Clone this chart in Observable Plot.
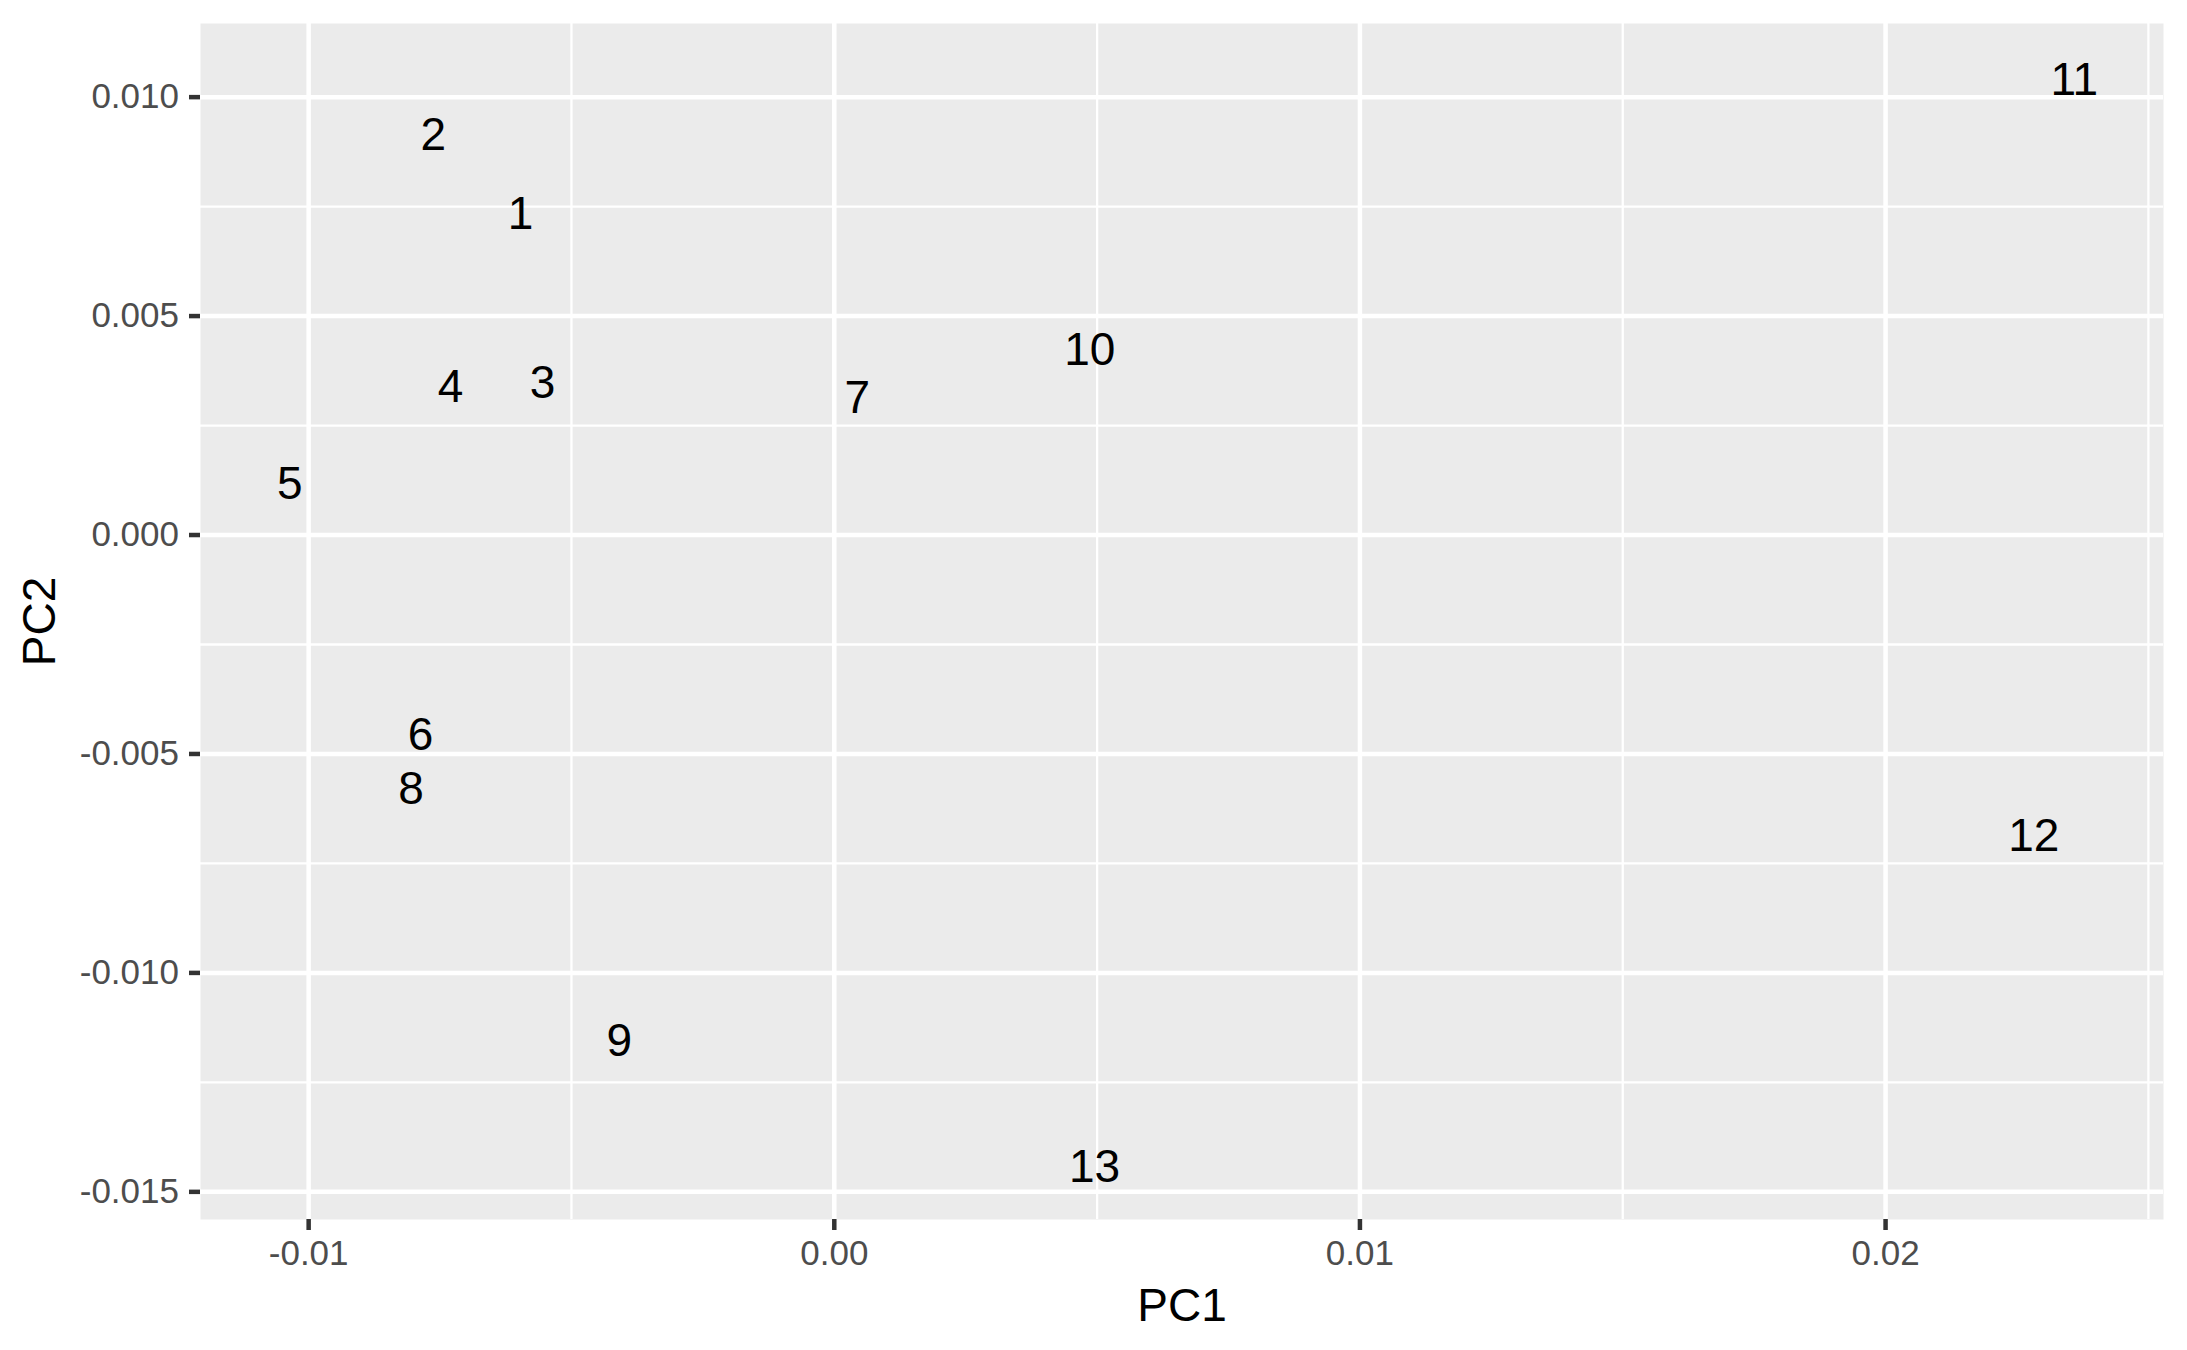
<!DOCTYPE html>
<html>
<head>
<meta charset="utf-8">
<script src="https://cdn.jsdelivr.net/npm/d3@7"></script>
<script src="https://cdn.jsdelivr.net/npm/@observablehq/plot@0.6"></script>
<style>
  html, body { margin: 0; padding: 0; background: #ffffff; }
  #chart { width: 2187px; height: 1350px; }
</style>
</head>
<body>
<div id="chart"></div>
<script>
// Sample labels and their principal-component scores
const labels = ["1", "2", "3", "4", "5", "6", "7", "8", "9", "10", "11", "12", "13"];
const pc1 = [-0.00597, -0.00763, -0.00555, -0.00730, -0.01036, -0.00787, 0.00044, -0.00805, -0.00409, 0.00486, 0.02359, 0.02282, 0.00495];
const pc2 = [0.00737, 0.00918, 0.00351, 0.00343, 0.00121, -0.00453, 0.00316, -0.00577, -0.01151, 0.00427, 0.01044, -0.00684, -0.01439];

// Axis ticks
const xTicks = [-0.01, 0, 0.01, 0.02];
const xTickLabels = ["-0.01", "0.00", "0.01", "0.02"];
const xMinor = [-0.005, 0.005, 0.015, 0.025];
const yTicks = [0.010, 0.005, 0, -0.005, -0.010, -0.015];
const yTickLabels = ["0.010", "0.005", "0.000", "-0.005", "-0.010", "-0.015"];
const yMinor = [0.0075, 0.0025, -0.0025, -0.0075, -0.0125];

const data = labels.map((l, i) => ({label: l, pc1: pc1[i], pc2: pc2[i]}));

function expand(vals, f) {
  const lo = d3.min(vals), hi = d3.max(vals), r = hi - lo;
  return [lo - f * r, hi + f * r];
}

const xFmt = new Map(xTicks.map((t, i) => [t, xTickLabels[i]]));
const yFmt = new Map(yTicks.map((t, i) => [t, yTickLabels[i]]));

const font = "'Liberation Sans', Arial, Helvetica, sans-serif";

const chart = Plot.plot({
  width: 2187,
  height: 1350,
  marginLeft: 200,
  marginRight: 24,
  marginTop: 23,
  marginBottom: 131,
  style: {fontFamily: font, background: "#ffffff", overflow: "visible"},
  x: {domain: expand(pc1, 0.05), label: null},
  y: {domain: expand(pc2, 0.05), label: null},
  marks: [
    Plot.frame({fill: "#ebebeb", stroke: null}),
    Plot.ruleX(xMinor, {stroke: "#ffffff", strokeWidth: 2.3}),
    Plot.ruleY(yMinor, {stroke: "#ffffff", strokeWidth: 2.3}),
    Plot.ruleX(xTicks, {stroke: "#ffffff", strokeWidth: 4.5}),
    Plot.ruleY(yTicks, {stroke: "#ffffff", strokeWidth: 4.5}),
    Plot.axisX(xTicks, {
      tickSize: 11, tickPadding: 10, fontSize: 35,
      fill: "#4d4d4d", stroke: "#333333", strokeWidth: 4.5,
      tickFormat: d => xFmt.get(d), label: null
    }),
    Plot.axisY(yTicks, {
      tickSize: 11, tickPadding: 10.5, fontSize: 35,
      fill: "#4d4d4d", stroke: "#333333", strokeWidth: 4.5,
      tickFormat: d => yFmt.get(d), label: null
    }),
    Plot.text(data, {
      x: "pc1", y: "pc2", text: "label",
      fontSize: 46, fill: "#000000", textAnchor: "middle", dy: 2
    }),
    Plot.text(["PC1"], {
      frameAnchor: "bottom", dy: 87, fontSize: 46, fill: "#000000",
      textAnchor: "middle", lineAnchor: "middle"
    }),
    Plot.text(["PC2"], {
      frameAnchor: "left", dx: -160, rotate: -90, fontSize: 46, fill: "#000000",
      textAnchor: "middle", lineAnchor: "middle"
    })
  ]
});

document.getElementById("chart").appendChild(chart);
</script>
</body>
</html>
